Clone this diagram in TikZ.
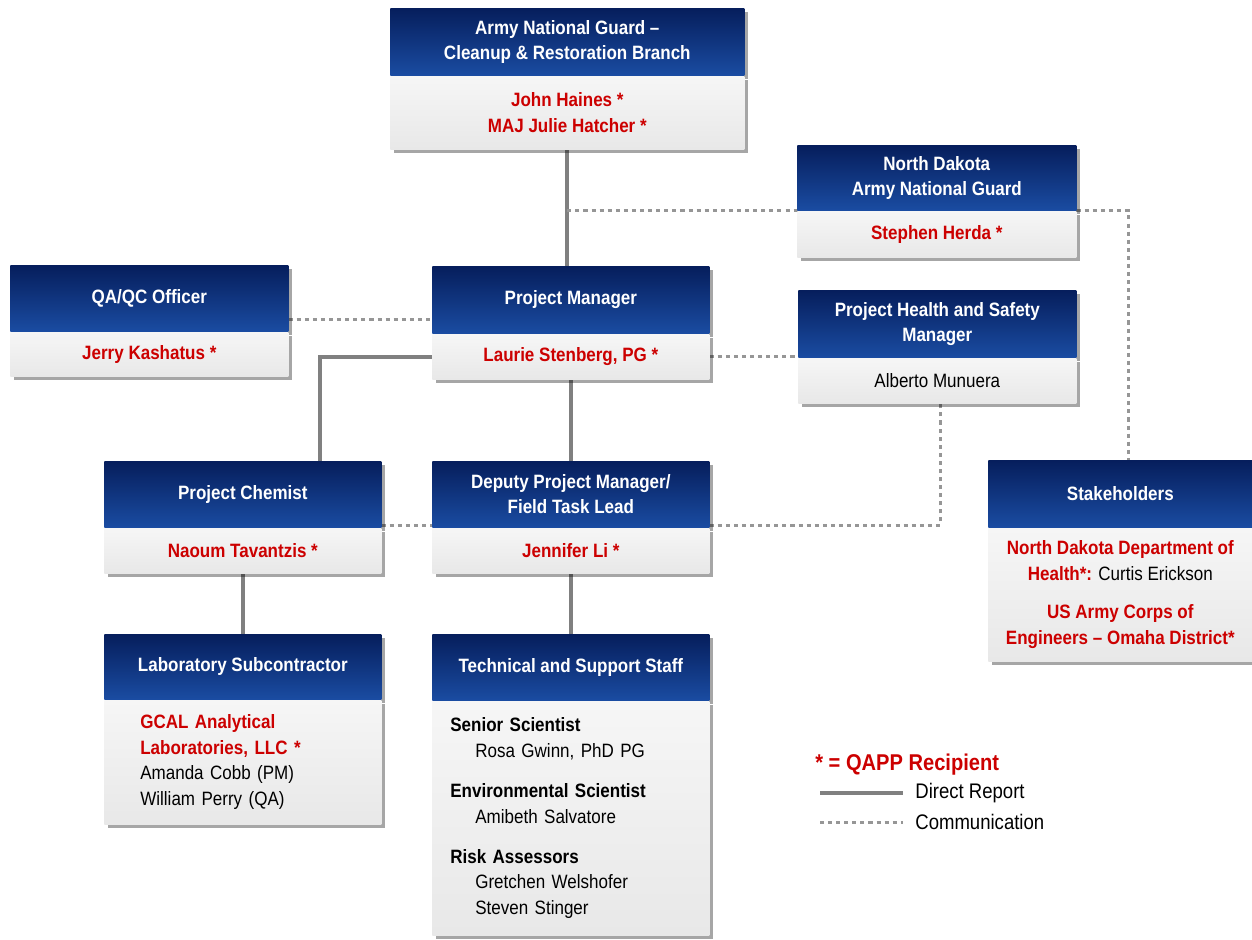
\documentclass[tikz,border=0pt]{standalone}
\usepackage{fontspec}
\setmainfont{Liberation Sans}[FakeStretch=0.88]
\usetikzlibrary{positioning,shadows,backgrounds}

\definecolor{hdrtop}{RGB}{6,30,92}
\definecolor{hdrbot}{RGB}{26,76,162}
\definecolor{bdytop}{RGB}{246,246,246}
\definecolor{bdybot}{RGB}{232,232,232}
\definecolor{qred}{RGB}{204,0,0}
\definecolor{linegray}{RGB}{128,128,128}
\definecolor{dotgray}{RGB}{150,150,150}

\tikzset{
  boxshadow/.style={drop shadow={shadow xshift=0.07cm,shadow yshift=-0.07cm,fill=black,opacity=0.35}},
  hdr/.style={anchor=north west,top color=hdrtop,bottom color=hdrbot,text=white,
    font=\fontsize{11}{14.5}\selectfont\bfseries,align=center,inner sep=2pt,boxshadow},
  bdy/.style={top color=bdytop,bottom color=bdybot,text=qred,
    font=\fontsize{11}{14.5}\selectfont\bfseries,align=center,inner sep=2pt,boxshadow},
  direct/.style={draw=linegray,line width=2.3pt},
  comm/.style={draw=dotgray,line width=1.7pt,dash pattern=on 2.3pt off 2.3pt}
}

\begin{document}
\begin{tikzpicture}[x=0.02cm,y=-0.02cm]
\useasboundingbox (0,0) rectangle (1252,940);

% top row
\node[hdr,minimum width=7.08cm,minimum height=1.34cm] (arngH) at (390,8) {Army National Guard --\\Cleanup \& Restoration Branch};
\node[bdy,below=0pt of arngH,minimum width=7.08cm,minimum height=1.46cm] (arngB) {John Haines *\\MAJ Julie Hatcher *};

\node[hdr,minimum width=5.58cm,minimum height=1.3cm] (ndH) at (797,145) {North Dakota\\Army National Guard};
\node[bdy,below=0pt of ndH,minimum width=5.58cm,minimum height=0.92cm] (ndB) {Stephen Herda *};

% project manager row
\node[hdr,minimum width=5.56cm,minimum height=1.32cm] (qaH) at (10,265) {QA/QC Officer};
\node[bdy,below=0pt of qaH,minimum width=5.56cm,minimum height=0.88cm] (qaB) {Jerry Kashatus *};

\node[hdr,minimum width=5.54cm,minimum height=1.34cm] (pmH) at (432,266) {Project Manager};
\node[bdy,below=0pt of pmH,minimum width=5.54cm,minimum height=0.9cm] (pmB) {Laurie Stenberg, PG *};

\node[hdr,minimum width=5.56cm,minimum height=1.34cm] (phH) at (798,290) {Project Health and Safety\\Manager};
\node[bdy,below=0pt of phH,minimum width=5.56cm,minimum height=0.9cm,text=black,font=\fontsize{11}{14.5}\selectfont] (phB) {Alberto Munuera};

% deputy row
\node[hdr,minimum width=5.54cm,minimum height=1.32cm] (chemH) at (104,461) {Project Chemist};
\node[bdy,below=0pt of chemH,minimum width=5.54cm,minimum height=0.9cm] (chemB) {Naoum Tavantzis *};

\node[hdr,minimum width=5.54cm,minimum height=1.32cm] (dpmH) at (432,461) {Deputy Project Manager/\\Field Task Lead};
\node[bdy,below=0pt of dpmH,minimum width=5.54cm,minimum height=0.9cm] (dpmB) {Jennifer Li *};

\node[hdr,minimum width=5.28cm,minimum height=1.34cm] (stakeH) at (988,460) {Stakeholders};
\node[bdy,below=0pt of stakeH,minimum width=5.28cm,minimum height=2.66cm] (stakeB) {North Dakota Department of\\Health*: \textcolor{black}{\mdseries Curtis Erickson}\\[0.26cm]US Army Corps of\\Engineers -- Omaha District*};

% bottom row
\node[hdr,minimum width=5.54cm,minimum height=1.3cm] (labH) at (104,634) {Laboratory Subcontractor};
\node[bdy,below=0pt of labH,minimum width=5.54cm,minimum height=2.48cm,text width=4.1cm,align=left] (labB) {GCAL Analytical\\Laboratories, LLC *\\\textcolor{black}{\mdseries Amanda Cobb (PM)}\\\textcolor{black}{\mdseries William Perry (QA)}};

\node[hdr,minimum width=5.54cm,minimum height=1.32cm] (techH) at (432,634) {Technical and Support Staff};
\node[bdy,below=0pt of techH,minimum width=5.54cm,minimum height=4.68cm,text width=4.82cm,align=left,text=black] (techB) {Senior Scientist\\\hspace*{0.5cm}{\mdseries Rosa Gwinn, PhD PG}\\[0.3cm]Environmental Scientist\\\hspace*{0.5cm}{\mdseries Amibeth Salvatore}\\[0.3cm]Risk Assessors\\\hspace*{0.5cm}{\mdseries Gretchen Welshofer}\\\hspace*{0.5cm}{\mdseries Steven Stinger}};

% legend
\node[anchor=west,text=qred,font=\fontsize{13}{15}\selectfont\bfseries,inner sep=0pt] (legKey) at (815,765) {* = QAPP Recipient};
\coordinate (legA) at (820,793);
\coordinate (legB) at (903,793);
\coordinate (legC) at (820,822);
\coordinate (legD) at (903,822);
\node[anchor=west,font=\fontsize{12}{14}\selectfont,inner sep=0pt] (legDirect) at (915,793) {Direct Report};
\node[anchor=west,font=\fontsize{12}{14}\selectfont,inner sep=0pt] (legComm) at (915,822) {Communication};

% connectors
\begin{scope}[on background layer]
\draw[direct] (arngB.south) -- (arngB.south |- pmH.north);
\coordinate (ndTap) at (arngB.south |- ndH.south);
\draw[comm] (ndTap) -| ([xshift=0.16cm]stakeH.north);
\draw[comm] ([yshift=-0.43cm]qaH.east) -- ([yshift=-0.43cm]qaH.east -| pmH.west);
\draw[direct] (pmB.west) -| ([xshift=1.55cm]chemH.north);
\draw[comm] (pmB.east) -- (pmB.east -| phB.west);
\draw[direct] (pmB.south) -- (dpmH.north);
\draw[comm] ([yshift=0.05cm]chemH.south east) -- ([yshift=0.05cm]dpmH.south west);
\draw[comm] ([yshift=0.05cm]dpmH.south east) -| ([xshift=0.06cm]phB.south);
\draw[direct] (chemB.south) -- (labH.north);
\draw[direct] (dpmB.south) -- (techH.north);
\end{scope}
\draw[direct] (legA) -- (legB);
\draw[comm] (legC) -- (legD);
\end{tikzpicture}
\end{document}
